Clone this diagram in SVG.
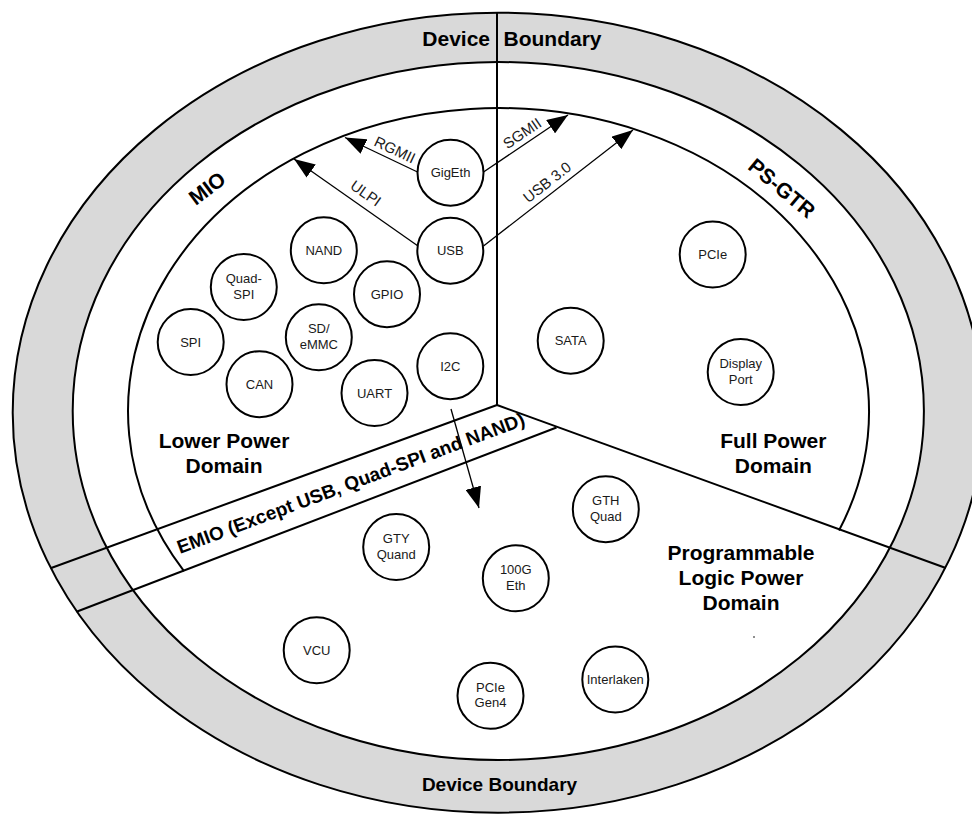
<svg xmlns="http://www.w3.org/2000/svg" width="972" height="814" viewBox="0 0 972 814">
<defs>
<style>
.ring{stroke:#000;stroke-width:2}
.div{fill:none;stroke:#000;stroke-width:2}
.node circle{fill:#fff;stroke:#000;stroke-width:2}
.node text{font-family:"Liberation Sans",Arial,sans-serif;font-size:13px;fill:#1a1a1a;text-anchor:middle}
.big{font-family:"Liberation Sans",Arial,sans-serif;font-size:21px;font-weight:bold;fill:#000;text-anchor:middle}
.bnd{font-family:"Liberation Sans",Arial,sans-serif;font-weight:bold;fill:#000}
.lbl{font-family:"Liberation Sans",Arial,sans-serif;font-size:15px;fill:#1a1a1a;text-anchor:middle}
.arr{fill:none;stroke:#000;stroke-width:1.3;marker-end:url(#ah)}
</style>
<marker id="ah" markerUnits="userSpaceOnUse" markerWidth="21" markerHeight="16" viewBox="0 0 21 16" refX="21" refY="8" orient="auto">
<path d="M0,0 L21,8 L0,16 z" fill="#000"/>
</marker>
</defs>

<g id="device-boundary">
<ellipse class="ring" cx="498" cy="412.7" rx="485.3" ry="400" fill="#d9d9d9"/>
<ellipse class="ring" cx="498.3" cy="411" rx="425.6" ry="349" fill="#fff"/>
</g>

<g id="dividers">
<line class="div" x1="497" y1="405" x2="497" y2="12.7"/>
<line class="div" x1="497" y1="405" x2="945.8" y2="568"/>
<line class="div" x1="497" y1="405" x2="50.5" y2="568.3"/>
<line class="div" x1="556.5" y1="427.5" x2="76.5" y2="611.8"/>
<path class="div" d="M184,571.2 A370.5,303 0 1 1 839,530.5"/>
</g>

<g id="region-labels">
<text class="bnd" font-size="21" x="490" y="46" text-anchor="end">Device</text>
<text class="bnd" font-size="21" x="503.5" y="46">Boundary</text>
<text class="bnd" font-size="19" x="499.5" y="791" text-anchor="middle">Device Boundary</text>
<text class="big" transform="translate(207,188) rotate(-37)" x="0" y="7.5">MIO</text>
<text class="big" transform="translate(782,188) rotate(40)" x="0" y="7.5">PS-GTR</text>
<text class="bnd" font-size="19" transform="translate(180,554) rotate(-20.5)">EMIO (Except USB, Quad-SPI and NAND)</text>
<text class="big" x="224" y="448">Lower Power</text>
<text class="big" x="224" y="473">Domain</text>
<text class="big" x="773.3" y="448.3">Full Power</text>
<text class="big" x="773.3" y="472.7">Domain</text>
<text class="big" x="741" y="560">Programmable</text>
<text class="big" x="741" y="585">Logic Power</text>
<text class="big" x="741" y="610">Domain</text>
<circle cx="754" cy="637" r="0.8" fill="#000"/>
</g>

<g id="connectors">
<line class="arr" x1="417.5" y1="172" x2="345" y2="137.5"/>
<line class="arr" x1="418" y1="246" x2="294" y2="159"/>
<line class="arr" x1="483.5" y1="172" x2="568" y2="115"/>
<line class="arr" x1="483.5" y1="246" x2="633" y2="130"/>
<line class="arr" x1="451" y1="409" x2="479" y2="508"/>
<text class="lbl" transform="translate(395,149.5) rotate(25.3)" x="0" y="5.5">RGMII</text>
<text class="lbl" transform="translate(366,193) rotate(35)" x="0" y="5.5">ULPI</text>
<text class="lbl" transform="translate(522,133) rotate(-34)" x="0" y="5.5">SGMII</text>
<text class="lbl" transform="translate(547,182) rotate(-38)" x="0" y="5.5">USB 3.0</text>
</g>

<g id="GigEth" class="node"><circle cx="450.5" cy="172.7" r="33"/><text x="450.5" y="177.2">GigEth</text></g>
<g id="USB" class="node"><circle cx="450.3" cy="250.7" r="33"/><text x="450.3" y="255.2">USB</text></g>
<g id="NAND" class="node"><circle cx="323.8" cy="250.3" r="33"/><text x="323.8" y="254.8">NAND</text></g>
<g id="QuadSPI" class="node"><circle cx="243.8" cy="287" r="33"/><text x="243.8" y="283">Quad-</text><text x="243.8" y="298.5">SPI</text></g>
<g id="GPIO" class="node"><circle cx="387" cy="294.2" r="33"/><text x="387" y="298.7">GPIO</text></g>
<g id="SPI" class="node"><circle cx="190.7" cy="342" r="33"/><text x="190.7" y="346.5">SPI</text></g>
<g id="SDeMMC" class="node"><circle cx="318.8" cy="337.3" r="33"/><text x="318.8" y="333.3">SD/</text><text x="318.8" y="348.8">eMMC</text></g>
<g id="I2C" class="node"><circle cx="450.3" cy="366.2" r="33"/><text x="450.3" y="370.7">I2C</text></g>
<g id="CAN" class="node"><circle cx="259.5" cy="384.2" r="33"/><text x="259.5" y="388.7">CAN</text></g>
<g id="UART" class="node"><circle cx="374.5" cy="393" r="33"/><text x="374.5" y="397.5">UART</text></g>
<g id="PCIe" class="node"><circle cx="712.7" cy="254.5" r="33"/><text x="712.7" y="259">PCIe</text></g>
<g id="SATA" class="node"><circle cx="570.7" cy="340.7" r="33"/><text x="570.7" y="345.2">SATA</text></g>
<g id="DisplayPort" class="node"><circle cx="740.7" cy="372" r="33"/><text x="740.7" y="368">Display</text><text x="740.7" y="383.5">Port</text></g>
<g id="GTHQuad" class="node"><circle cx="605.8" cy="509.2" r="33"/><text x="605.8" y="505.2">GTH</text><text x="605.8" y="520.7">Quad</text></g>
<g id="GTYQuand" class="node"><circle cx="396.2" cy="547" r="33"/><text x="396.2" y="543">GTY</text><text x="396.2" y="558.5">Quand</text></g>
<g id="Eth100G" class="node"><circle cx="515.8" cy="578.3" r="33"/><text x="515.8" y="574.3">100G</text><text x="515.8" y="589.8">Eth</text></g>
<g id="VCU" class="node"><circle cx="316.7" cy="650.3" r="33"/><text x="316.7" y="654.8">VCU</text></g>
<g id="PCIeGen4" class="node"><circle cx="490.5" cy="695.8" r="33"/><text x="490.5" y="691.8">PCIe</text><text x="490.5" y="707.3">Gen4</text></g>
<g id="Interlaken" class="node"><circle cx="615.3" cy="679.5" r="33"/><text x="615.3" y="684">Interlaken</text></g>
</svg>
